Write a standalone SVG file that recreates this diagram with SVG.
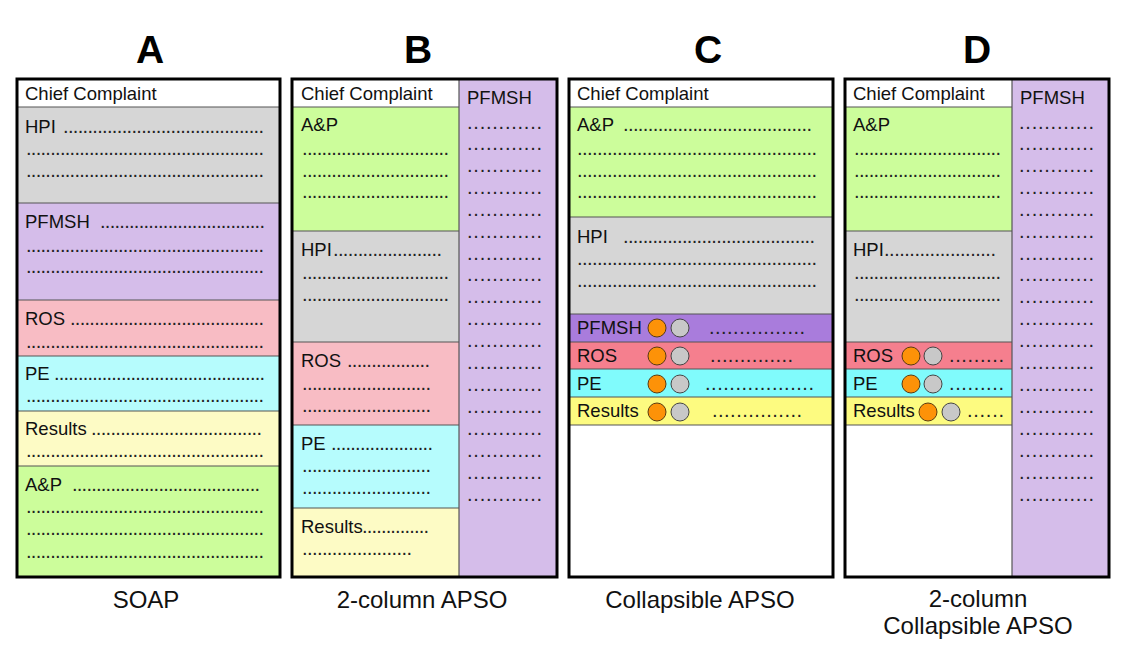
<svg xmlns="http://www.w3.org/2000/svg" width="1127" height="665" viewBox="0 0 1127 665">
<style>
text{font-family:"Liberation Sans",Arial,sans-serif;fill:#111}
.lbl{font-size:18.5px}
.dots{font-size:20px;fill:#222}
.ttl{font-size:39px;font-weight:bold;fill:#000}
.cap{font-size:24px;fill:#111}
.sep{stroke:#555;stroke-width:1.2}
.frame{fill:none;stroke:#000;stroke-width:3}
.w{fill:#fff}.gy{fill:#d6d6d6}.pu{fill:#d5bdea}.pk{fill:#f8bcc4}.cy{fill:#b6fcfd}.ye{fill:#fdfbc5}.gr{fill:#ccfd9b}
.pu2{fill:#a97cdc}.pk2{fill:#f57f8e}.cy2{fill:#80fbfc}.ye2{fill:#fdfb80}
.or{fill:#fd9208;stroke:#5a3a10;stroke-width:1}
.gc{fill:#c8c8c8;stroke:#444;stroke-width:1}
</style>

<g id="panelA">
  <text class="ttl" x="150" y="63" text-anchor="middle">A</text>
  <rect class="w" x="17" y="79" width="263" height="28"/>
  <rect class="gy" x="17" y="107" width="263" height="96"/>
  <rect class="pu" x="17" y="203" width="263" height="97"/>
  <rect class="pk" x="17" y="300" width="263" height="56"/>
  <rect class="cy" x="17" y="356" width="263" height="55"/>
  <rect class="ye" x="17" y="411" width="263" height="55"/>
  <rect class="gr" x="17" y="466" width="263" height="111"/>
  <g class="sep">
    <line x1="17" y1="107" x2="280" y2="107"/>
    <line x1="17" y1="203" x2="280" y2="203"/>
    <line x1="17" y1="300" x2="280" y2="300"/>
    <line x1="17" y1="356" x2="280" y2="356"/>
    <line x1="17" y1="411" x2="280" y2="411"/>
    <line x1="17" y1="466" x2="280" y2="466"/>
  </g>
  <text class="lbl" x="25" y="100">Chief Complaint</text>
  <text class="lbl" x="25" y="133">HPI</text>
  <text class="dots" x="63" y="133" textLength="201" lengthAdjust="spacing">.........................................</text>
  <text class="dots" x="26" y="155" textLength="238" lengthAdjust="spacing">.................................................</text>
  <text class="dots" x="26" y="177" textLength="238" lengthAdjust="spacing">.................................................</text>
  <text class="lbl" x="25" y="228">PFMSH</text>
  <text class="dots" x="100" y="228" textLength="165" lengthAdjust="spacing">..................................</text>
  <text class="dots" x="26" y="252" textLength="238" lengthAdjust="spacing">.................................................</text>
  <text class="dots" x="26" y="273" textLength="238" lengthAdjust="spacing">.................................................</text>
  <text class="lbl" x="25" y="325">ROS</text>
  <text class="dots" x="70" y="325" textLength="194" lengthAdjust="spacing">........................................</text>
  <text class="dots" x="26" y="348" textLength="238" lengthAdjust="spacing">.................................................</text>
  <text class="lbl" x="25" y="380">PE</text>
  <text class="dots" x="54" y="380" textLength="211" lengthAdjust="spacing">............................................</text>
  <text class="dots" x="26" y="402" textLength="238" lengthAdjust="spacing">.................................................</text>
  <text class="lbl" x="25" y="435">Results</text>
  <text class="dots" x="91" y="435" textLength="171" lengthAdjust="spacing">...................................</text>
  <text class="dots" x="26" y="457" textLength="238" lengthAdjust="spacing">.................................................</text>
  <text class="lbl" x="25" y="491">A&amp;P</text>
  <text class="dots" x="72" y="491" textLength="188" lengthAdjust="spacing">.......................................</text>
  <text class="dots" x="26" y="513" textLength="238" lengthAdjust="spacing">.................................................</text>
  <text class="dots" x="26" y="535" textLength="238" lengthAdjust="spacing">.................................................</text>
  <text class="dots" x="26" y="558" textLength="238" lengthAdjust="spacing">.................................................</text>
  <rect class="frame" x="17" y="79" width="263" height="498"/>
  <text class="cap" x="146" y="608" text-anchor="middle">SOAP</text>
</g>

<g id="panelB">
  <text class="ttl" x="418" y="63" text-anchor="middle">B</text>
  <rect class="w" x="292" y="79" width="167" height="28"/>
  <rect class="gr" x="292" y="107" width="167" height="124"/>
  <rect class="gy" x="292" y="231" width="167" height="111"/>
  <rect class="pk" x="292" y="342" width="167" height="83"/>
  <rect class="cy" x="292" y="425" width="167" height="83"/>
  <rect class="ye" x="292" y="508" width="167" height="69"/>
  <rect class="pu" x="459" y="79" width="98" height="498"/>
  <g class="sep">
    <line x1="292" y1="107" x2="459" y2="107"/>
    <line x1="292" y1="231" x2="459" y2="231"/>
    <line x1="292" y1="342" x2="459" y2="342"/>
    <line x1="292" y1="425" x2="459" y2="425"/>
    <line x1="292" y1="508" x2="459" y2="508"/>
    <line x1="459" y1="79" x2="459" y2="577"/>
  </g>
  <text class="lbl" x="301" y="100">Chief Complaint</text>
  <text class="lbl" x="301" y="131">A&amp;P</text>
  <text class="dots" x="302" y="155" textLength="147" lengthAdjust="spacing">..............................</text>
  <text class="dots" x="302" y="177" textLength="147" lengthAdjust="spacing">..............................</text>
  <text class="dots" x="302" y="198" textLength="147" lengthAdjust="spacing">..............................</text>
  <text class="lbl" x="301" y="256">HPI</text>
  <text class="dots" x="333" y="256" textLength="109" lengthAdjust="spacing">......................</text>
  <text class="dots" x="302" y="279" textLength="147" lengthAdjust="spacing">..............................</text>
  <text class="dots" x="302" y="301" textLength="147" lengthAdjust="spacing">..............................</text>
  <text class="lbl" x="301" y="367">ROS</text>
  <text class="dots" x="347" y="367" textLength="83" lengthAdjust="spacing">.................</text>
  <text class="dots" x="302" y="390" textLength="129" lengthAdjust="spacing">..........................</text>
  <text class="dots" x="302" y="412" textLength="129" lengthAdjust="spacing">..........................</text>
  <text class="lbl" x="301" y="450">PE</text>
  <text class="dots" x="331" y="450" textLength="102" lengthAdjust="spacing">.....................</text>
  <text class="dots" x="302" y="472" textLength="129" lengthAdjust="spacing">..........................</text>
  <text class="dots" x="302" y="494" textLength="129" lengthAdjust="spacing">..........................</text>
  <text class="lbl" x="301" y="533">Results</text>
  <text class="dots" x="362" y="533" textLength="67" lengthAdjust="spacing">..............</text>
  <text class="dots" x="302" y="555" textLength="110" lengthAdjust="spacing">......................</text>
  <text class="lbl" x="467" y="104">PFMSH</text>
  <g class="pfcol">
    <text class="dots" x="467" y="129" textLength="75" lengthAdjust="spacing">............</text>
    <text class="dots" x="467" y="150" textLength="75" lengthAdjust="spacing">............</text>
    <text class="dots" x="467" y="172" textLength="75" lengthAdjust="spacing">............</text>
    <text class="dots" x="467" y="194" textLength="75" lengthAdjust="spacing">............</text>
    <text class="dots" x="467" y="216" textLength="75" lengthAdjust="spacing">............</text>
    <text class="dots" x="467" y="238" textLength="75" lengthAdjust="spacing">............</text>
    <text class="dots" x="467" y="260" textLength="75" lengthAdjust="spacing">............</text>
    <text class="dots" x="467" y="281" textLength="75" lengthAdjust="spacing">............</text>
    <text class="dots" x="467" y="303" textLength="75" lengthAdjust="spacing">............</text>
    <text class="dots" x="467" y="325" textLength="75" lengthAdjust="spacing">............</text>
    <text class="dots" x="467" y="347" textLength="75" lengthAdjust="spacing">............</text>
    <text class="dots" x="467" y="369" textLength="75" lengthAdjust="spacing">............</text>
    <text class="dots" x="467" y="391" textLength="75" lengthAdjust="spacing">............</text>
    <text class="dots" x="467" y="413" textLength="75" lengthAdjust="spacing">............</text>
    <text class="dots" x="467" y="435" textLength="75" lengthAdjust="spacing">............</text>
    <text class="dots" x="467" y="457" textLength="75" lengthAdjust="spacing">............</text>
    <text class="dots" x="467" y="479" textLength="75" lengthAdjust="spacing">............</text>
    <text class="dots" x="467" y="501" textLength="75" lengthAdjust="spacing">............</text>
  </g>
  <rect class="frame" x="292" y="79" width="265" height="498"/>
  <text class="cap" x="422" y="608" text-anchor="middle">2-column APSO</text>
</g>

<g id="panelC">
  <text class="ttl" x="708" y="63" text-anchor="middle">C</text>
  <rect class="w" x="569" y="79" width="264" height="498"/>
  <rect class="gr" x="569" y="107" width="264" height="110"/>
  <rect class="gy" x="569" y="217" width="264" height="97"/>
  <rect class="pu2" x="569" y="314" width="264" height="28"/>
  <rect class="pk2" x="569" y="342" width="264" height="27"/>
  <rect class="cy2" x="569" y="369" width="264" height="28"/>
  <rect class="ye2" x="569" y="397" width="264" height="28"/>
  <g class="sep">
    <line x1="569" y1="107" x2="833" y2="107"/>
    <line x1="569" y1="217" x2="833" y2="217"/>
    <line x1="569" y1="314" x2="833" y2="314"/>
    <line x1="569" y1="342" x2="833" y2="342"/>
    <line x1="569" y1="369" x2="833" y2="369"/>
    <line x1="569" y1="397" x2="833" y2="397"/>
    <line x1="569" y1="425" x2="833" y2="425"/>
  </g>
  <text class="lbl" x="577" y="100">Chief Complaint</text>
  <text class="lbl" x="577" y="131">A&amp;P</text>
  <text class="dots" x="623" y="131" textLength="189" lengthAdjust="spacing">......................................</text>
  <text class="dots" x="577" y="155" textLength="240" lengthAdjust="spacing">................................................</text>
  <text class="dots" x="577" y="177" textLength="240" lengthAdjust="spacing">................................................</text>
  <text class="dots" x="577" y="198" textLength="240" lengthAdjust="spacing">................................................</text>
  <text class="lbl" x="577" y="243">HPI</text>
  <text class="dots" x="623" y="243" textLength="192" lengthAdjust="spacing">.......................................</text>
  <text class="dots" x="577" y="265" textLength="240" lengthAdjust="spacing">................................................</text>
  <text class="dots" x="577" y="287" textLength="240" lengthAdjust="spacing">................................................</text>
  <text class="lbl" x="577" y="334">PFMSH</text>
  <circle class="or" cx="657" cy="328" r="9"/>
  <circle class="gc" cx="680" cy="328" r="9"/>
  <text class="dots" x="709" y="334" textLength="96" lengthAdjust="spacing">................</text>
  <text class="lbl" x="577" y="362">ROS</text>
  <circle class="or" cx="657" cy="356" r="9"/>
  <circle class="gc" cx="680" cy="356" r="9"/>
  <text class="dots" x="710" y="362" textLength="83" lengthAdjust="spacing">..............</text>
  <text class="lbl" x="577" y="390">PE</text>
  <circle class="or" cx="657" cy="384" r="9"/>
  <circle class="gc" cx="680" cy="384" r="9"/>
  <text class="dots" x="705" y="390" textLength="109" lengthAdjust="spacing">..................</text>
  <text class="lbl" x="577" y="417">Results</text>
  <circle class="or" cx="657" cy="412" r="9"/>
  <circle class="gc" cx="680" cy="412" r="9"/>
  <text class="dots" x="712" y="417" textLength="90" lengthAdjust="spacing">...............</text>
  <rect class="frame" x="569" y="79" width="264" height="498"/>
  <text class="cap" x="700" y="608" text-anchor="middle">Collapsible APSO</text>
</g>

<g id="panelD">
  <text class="ttl" x="977" y="63" text-anchor="middle">D</text>
  <rect class="w" x="845" y="79" width="167" height="498"/>
  <rect class="gr" x="845" y="107" width="167" height="124"/>
  <rect class="gy" x="845" y="231" width="167" height="111"/>
  <rect class="pk2" x="845" y="342" width="167" height="27"/>
  <rect class="cy2" x="845" y="369" width="167" height="28"/>
  <rect class="ye2" x="845" y="397" width="167" height="28"/>
  <rect class="pu" x="1012" y="79" width="97" height="498"/>
  <g class="sep">
    <line x1="845" y1="107" x2="1012" y2="107"/>
    <line x1="845" y1="231" x2="1012" y2="231"/>
    <line x1="845" y1="342" x2="1012" y2="342"/>
    <line x1="845" y1="369" x2="1012" y2="369"/>
    <line x1="845" y1="397" x2="1012" y2="397"/>
    <line x1="845" y1="425" x2="1012" y2="425"/>
    <line x1="1012" y1="79" x2="1012" y2="577"/>
  </g>
  <text class="lbl" x="853" y="100">Chief Complaint</text>
  <text class="lbl" x="853" y="131">A&amp;P</text>
  <text class="dots" x="854" y="155" textLength="147" lengthAdjust="spacing">..............................</text>
  <text class="dots" x="854" y="177" textLength="147" lengthAdjust="spacing">..............................</text>
  <text class="dots" x="854" y="198" textLength="147" lengthAdjust="spacing">..............................</text>
  <text class="lbl" x="853" y="256">HPI</text>
  <text class="dots" x="884" y="256" textLength="112" lengthAdjust="spacing">......................</text>
  <text class="dots" x="854" y="279" textLength="147" lengthAdjust="spacing">..............................</text>
  <text class="dots" x="854" y="301" textLength="147" lengthAdjust="spacing">..............................</text>
  <text class="lbl" x="853" y="362">ROS</text>
  <circle class="or" cx="911" cy="356" r="9"/>
  <circle class="gc" cx="933" cy="356" r="9"/>
  <text class="dots" x="949" y="362" textLength="55" lengthAdjust="spacing">.........</text>
  <text class="lbl" x="853" y="390">PE</text>
  <circle class="or" cx="911" cy="384" r="9"/>
  <circle class="gc" cx="933" cy="384" r="9"/>
  <text class="dots" x="949" y="390" textLength="55" lengthAdjust="spacing">.........</text>
  <text class="lbl" x="853" y="417">Results</text>
  <circle class="or" cx="928" cy="412" r="9"/>
  <circle class="gc" cx="951" cy="412" r="9"/>
  <text class="dots" x="967" y="417" textLength="37" lengthAdjust="spacing">......</text>
  <text class="lbl" x="1020" y="104">PFMSH</text>
  <g class="pfcol">
    <text class="dots" x="1019" y="129" textLength="75" lengthAdjust="spacing">............</text>
    <text class="dots" x="1019" y="150" textLength="75" lengthAdjust="spacing">............</text>
    <text class="dots" x="1019" y="172" textLength="75" lengthAdjust="spacing">............</text>
    <text class="dots" x="1019" y="194" textLength="75" lengthAdjust="spacing">............</text>
    <text class="dots" x="1019" y="216" textLength="75" lengthAdjust="spacing">............</text>
    <text class="dots" x="1019" y="238" textLength="75" lengthAdjust="spacing">............</text>
    <text class="dots" x="1019" y="260" textLength="75" lengthAdjust="spacing">............</text>
    <text class="dots" x="1019" y="281" textLength="75" lengthAdjust="spacing">............</text>
    <text class="dots" x="1019" y="303" textLength="75" lengthAdjust="spacing">............</text>
    <text class="dots" x="1019" y="325" textLength="75" lengthAdjust="spacing">............</text>
    <text class="dots" x="1019" y="347" textLength="75" lengthAdjust="spacing">............</text>
    <text class="dots" x="1019" y="369" textLength="75" lengthAdjust="spacing">............</text>
    <text class="dots" x="1019" y="391" textLength="75" lengthAdjust="spacing">............</text>
    <text class="dots" x="1019" y="413" textLength="75" lengthAdjust="spacing">............</text>
    <text class="dots" x="1019" y="435" textLength="75" lengthAdjust="spacing">............</text>
    <text class="dots" x="1019" y="457" textLength="75" lengthAdjust="spacing">............</text>
    <text class="dots" x="1019" y="479" textLength="75" lengthAdjust="spacing">............</text>
    <text class="dots" x="1019" y="501" textLength="75" lengthAdjust="spacing">............</text>
  </g>
  <rect class="frame" x="845" y="79" width="264" height="498"/>
  <text class="cap" x="978" y="607" text-anchor="middle">2-column</text>
  <text class="cap" x="978" y="634" text-anchor="middle">Collapsible APSO</text>
</g>

<g id="connectors"/>
</svg>
